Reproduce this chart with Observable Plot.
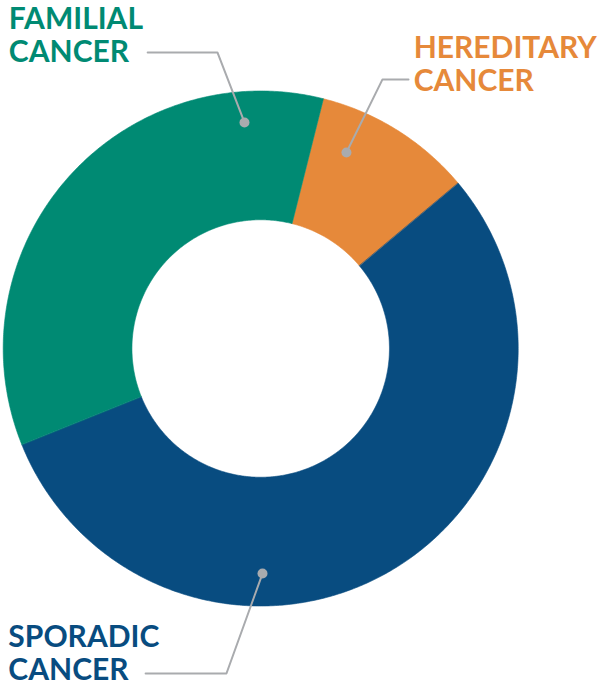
<!DOCTYPE html>
<html>
<head>
<meta charset="utf-8">
<script src="https://cdn.jsdelivr.net/npm/d3@7"></script>
<script src="https://cdn.jsdelivr.net/npm/@observablehq/plot@0.6"></script>
<style>
  html, body { margin: 0; padding: 0; background: #fff; }
  #chart svg { display: block; }
</style>
</head>
<body>
<div id="chart"></div>
<script>
// ---- data ----
const categories = ["Hereditary cancer", "Sporadic cancer", "Familial cancer"];
const shares = [10, 55, 35];            // percent
const colors = ["#e6893a", "#084c80", "#008a73"];
const labels = ["HEREDITARY\nCANCER", "SPORADIC\nCANCER", "FAMILIAL\nCANCER"];

// ---- layout (unit circle coordinates) ----
const startAngle = 14.1;     // degrees clockwise from 12 o'clock where the first slice begins
const innerRatio = 0.5;

// leader annotations: dot on slice, elbow, end of horizontal; text anchor (top-left)
const leaders = [
  {cat: categories[0], pts: [[0.333, 0.761], [0.473, 1.045], [0.574, 1.045]], text: [0.594, 1.219]},
  {cat: categories[1], pts: [[0.007, -0.874], [-0.133, -1.262], [-0.447, -1.262]], text: [-0.980, -1.068]},
  {cat: categories[2], pts: [[-0.063, 0.878], [-0.168, 1.150], [-0.439, 1.150]], text: [-0.978, 1.332]}
];

// ---- build slice polygons from shares ----
const total = d3.sum(shares);
const polys = [];
let a = startAngle;
categories.forEach((c, i) => {
  const span = shares[i] / total * 360;
  const a0 = a, a1 = a + span;
  const n = Math.max(2, Math.ceil(span * 2));
  const outer = [], inner = [];
  for (let k = 0; k <= n; k++) {
    const t = (a0 + (a1 - a0) * k / n) * Math.PI / 180;
    outer.push({category: c, x: Math.sin(t), y: Math.cos(t)});
    inner.push({category: c, x: innerRatio * Math.sin(t), y: innerRatio * Math.cos(t)});
  }
  polys.push(...outer, ...inner.reverse());
  a = a1;
});

const leaderPts = leaders.flatMap(l => l.pts.map(([x, y]) => ({category: l.cat, x, y})));
const dots = leaders.map(l => ({category: l.cat, x: l.pts[0][0], y: l.pts[0][1]}));
const texts = leaders.map(l => ({category: l.cat, x: l.text[0], y: l.text[1], label: labels[categories.indexOf(l.cat)]}));

const R = 257.5, cx = 260.2, cy = 348;

const chart = Plot.plot({
  width: 601,
  height: 687,
  margin: 0,
  style: {background: "#fff", fontFamily: "Lato, sans-serif"},
  x: {domain: [-1, 1], range: [cx - R, cx + R], axis: null},
  y: {domain: [-1, 1], range: [cy + R, cy - R], axis: null},
  color: {domain: categories, range: colors},
  marks: [
    Plot.line(polys, {x: "x", y: "y", z: "category", fill: "category", stroke: "category", strokeWidth: 0.6, curve: "linear-closed"}),
    Plot.line(leaderPts, {x: "x", y: "y", z: "category", stroke: "#a9abae", strokeWidth: 2}),
    Plot.dot(dots, {x: "x", y: "y", r: 5, fill: "#a9abae"}),
    Plot.text(texts, {x: "x", y: "y", text: "label", fill: "category", textAnchor: "start", lineAnchor: "top",
      fontSize: 30, fontWeight: 700, lineHeight: 1.1})
  ]
});
document.getElementById("chart").appendChild(chart);
</script>
</body>
</html>
